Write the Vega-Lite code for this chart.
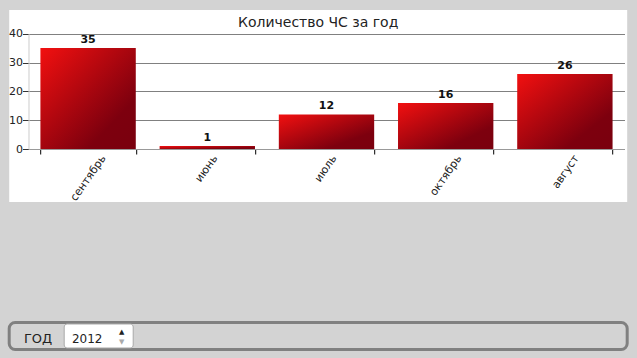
{
  "$schema": "https://vega.github.io/schema/vega-lite/v6.json",
  "autosize": {"type": "pad"},
  "padding": {"left": 4.2, "top": 10, "right": 15, "bottom": 10},
  "background": "#d3d3d3",
  "spacing": 117.5,
  "config": {
    "font": "DejaVu Sans",
    "view": {"stroke": null}
  },
  "vconcat": [
    {
      "width": 618,
      "height": 192,
      "view": {"fill": "white", "stroke": null},
      "title": {
        "text": "Количество ЧС за год",
        "fontSize": 14,
        "fontWeight": "normal",
        "color": "#222222",
        "anchor": "middle",
        "frame": "group",
        "offset": -20
      },
      "data": {
        "values": [
          {"month": "сентябрь", "count": 35},
          {"month": "июнь", "count": 1},
          {"month": "июль", "count": 12},
          {"month": "октябрь", "count": 16},
          {"month": "август", "count": 26}
        ]
      },
      "encoding": {
        "x": {
          "field": "month",
          "type": "nominal",
          "sort": null,
          "scale": {"range": [19.3, 615.3], "paddingInner": 0.2, "paddingOuter": 0.1},
          "axis": {
            "title": null,
            "labelAngle": -55,
            "labelOffset": {"expr": "length(datum.label) * 1.9"},
            "offset": -53,
            "tickBand": "extent",
            "tickSize": 5,
            "tickColor": "#000000",
            "domainColor": "#999999",
            "labelFontSize": 11,
            "labelColor": "#222222",
            "labelPadding": 2,
            "grid": false
          }
        },
        "y": {
          "field": "count",
          "type": "quantitative",
          "scale": {"domain": [0, 40], "range": [139, 23.7], "nice": false},
          "axis": {
            "title": null,
            "values": [0, 10, 20, 30, 40],
            "offset": -19.3,
            "tickSize": 6,
            "tickColor": "#333333",
            "domainColor": "#cccccc",
            "grid": true,
            "gridColor": "#808080",
            "gridOpacity": 1,
            "labelFontSize": 11,
            "labelColor": "#222222",
            "labelPadding": 0
          }
        }
      },
      "layer": [
        {
          "mark": {
            "type": "bar",
            "color": {
              "gradient": "linear",
              "x1": 0, "y1": 0, "x2": 1, "y2": 1,
              "stops": [
                {"offset": 0, "color": "#f21010"},
                {"offset": 0.75, "color": "#7d000e"},
                {"offset": 1, "color": "#7a000e"}
              ]
            }
          }
        },
        {
          "mark": {
            "type": "text",
            "baseline": "bottom",
            "dy": -3,
            "fontSize": 11,
            "fontWeight": "bold",
            "color": "#111111"
          },
          "encoding": {"text": {"field": "count", "type": "quantitative"}}
        }
      ]
    },
    {
      "width": 618,
      "height": 27,
      "view": {"fill": "#d3d3d3", "stroke": "#808080", "strokeWidth": 3, "cornerRadius": 6},
      "data": {"values": [{"part": "ГОД"}, {"part": "2012"}]},
      "encoding": {
        "x": {
          "field": "part",
          "type": "nominal",
          "sort": null,
          "scale": {"domain": ["ГОД", "2012"], "range": [-14, 124], "paddingInner": 0, "paddingOuter": 0},
          "axis": null
        }
      },
      "layer": [
        {
          "transform": [{"filter": "datum.part === '2012'"}],
          "mark": {"type": "rect", "fill": "white", "stroke": "#a8a8a8", "strokeWidth": 1, "cornerRadius": 3},
          "encoding": {
            "y": {
              "field": "part",
              "type": "nominal",
              "scale": {"domain": ["2012"], "range": [1.5, 25.5], "paddingInner": 0, "paddingOuter": 0},
              "axis": null
            }
          }
        },
        {
          "transform": [{"filter": "datum.part === 'ГОД'"}],
          "mark": {"type": "text", "align": "left", "dx": 28.7, "dy": 3, "fontSize": 13, "color": "#222222"},
          "encoding": {
            "x": {"field": "part", "type": "nominal", "bandPosition": 0},
            "text": {"field": "part"}
          }
        },
        {
          "transform": [{"filter": "datum.part === '2012'"}],
          "mark": {"type": "text", "align": "left", "dx": 7.7, "dy": 3, "fontSize": 12, "color": "#222222"},
          "encoding": {
            "x": {"field": "part", "type": "nominal", "bandPosition": 0},
            "text": {"field": "part"}
          }
        },
        {
          "transform": [{"filter": "datum.part === '2012'"}],
          "mark": {"type": "text", "text": "▲", "align": "center", "dx": 57.5, "dy": -3.9, "fontSize": 7, "color": "#222222"},
          "encoding": {"x": {"field": "part", "type": "nominal", "bandPosition": 0}}
        },
        {
          "transform": [{"filter": "datum.part === '2012'"}],
          "mark": {"type": "text", "text": "▼", "align": "center", "dx": 57.5, "dy": 6.1, "fontSize": 7, "color": "#aaaaaa"},
          "encoding": {"x": {"field": "part", "type": "nominal", "bandPosition": 0}}
        }
      ]
    }
  ]
}
